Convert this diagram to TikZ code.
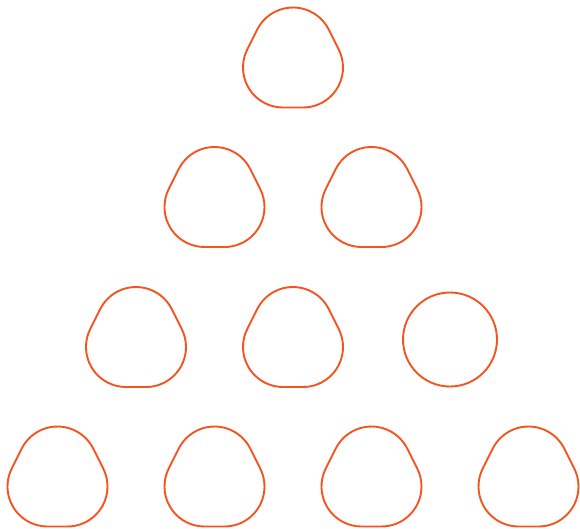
\documentclass[tikz,border=0pt]{standalone}
\usetikzlibrary{calc}
\definecolor{shapeorange}{RGB}{244,84,32}
\tikzset{
  outline/.style={draw=shapeorange, line width=1.9pt, fill=none},
  rtri/.pic={
    \path[outline] (0,10pt) ++(26.57:40pt)
      arc[start angle=26.57, end angle=153.43, radius=40pt]
      -- ++(-10pt,-20pt)
      arc[start angle=153.43, end angle=270, radius=40pt]
      -- ++(20pt,0pt)
      arc[start angle=270, end angle=386.57, radius=40pt]
      -- cycle;
  }
}
\begin{document}
\begin{tikzpicture}[x=1pt,y=-1pt]
\useasboundingbox (0,0) rectangle (580,528);
% centres
\coordinate (a) at (293,57.5);
\coordinate (b1) at (214.5,197);
\coordinate (b2) at (371.5,197);
\coordinate (c1) at (136,337);
\coordinate (c2) at (293,337);
\coordinate (c3) at (450,339.5);
\coordinate (d1) at (57.5,476.5);
\coordinate (d2) at (214.5,476.5);
\coordinate (d3) at (371.5,476.5);
\coordinate (d4) at (528.5,476.5);
\foreach \p in {a,b1,b2,c1,c2,d1,d2,d3,d4}{
  \pic at (\p) {rtri};
}
\node[outline, circle, minimum size=94pt, inner sep=0pt] (circ) at (c3) {};
\end{tikzpicture}
\end{document}
